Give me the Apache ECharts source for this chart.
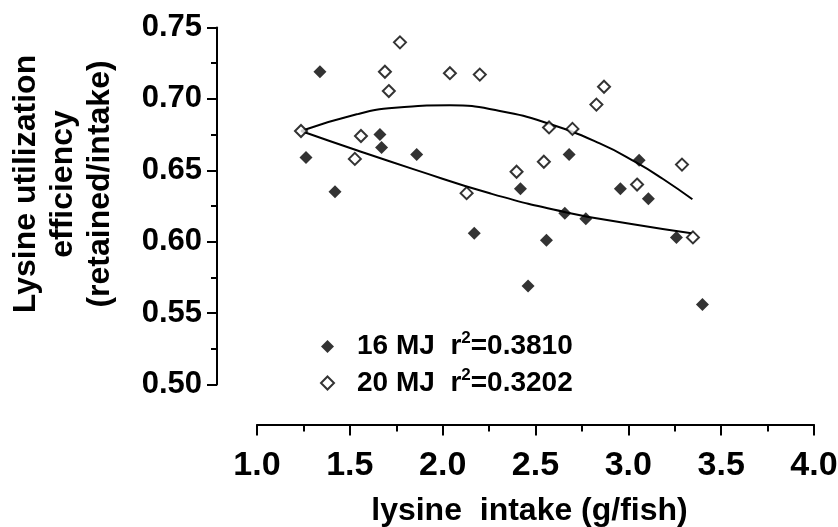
<!DOCTYPE html>
<html>
<head>
<meta charset="utf-8">
<script src="https://cdn.jsdelivr.net/npm/echarts@6/dist/echarts.min.js"></script>
<style>
  html, body { margin: 0; padding: 0; background: #fff; }
  #chart { width: 838px; height: 527px; }
</style>
</head>
<body>
<div id="chart"></div>
<script>
// ---- data ----
const seriesNames = ['16 MJ', '20 MJ'];
const rSquared = ['0.3810', '0.3202'];

const intake16 = [1.264, 1.339, 1.420, 1.662, 1.671, 1.860, 2.170, 2.419, 2.460, 2.559, 2.658, 2.681, 2.771, 2.957, 3.058, 3.108, 3.259, 3.399];
const eff16    = [0.659, 0.719, 0.635, 0.675, 0.666, 0.661, 0.606, 0.637, 0.569, 0.601, 0.620, 0.661, 0.616, 0.637, 0.657, 0.630, 0.603, 0.556];

const intake20 = [1.237, 1.527, 1.560, 1.689, 1.710, 1.770, 2.039, 2.129, 2.200, 2.398, 2.545, 2.573, 2.699, 2.828, 2.869, 3.047, 3.289, 3.348];
const eff20    = [0.6775, 0.658, 0.674, 0.719, 0.7055, 0.7396, 0.718, 0.634, 0.717, 0.649, 0.656, 0.680, 0.679, 0.696, 0.7085, 0.640, 0.654, 0.603];

// fitted curves
const fitX16 = [1.237, 1.537, 1.850, 2.254, 2.667, 3.025, 3.340];
const fitY16 = [0.6775, 0.6640, 0.6505, 0.6339, 0.6205, 0.6122, 0.6059];
const fitX20 = [1.237, 1.537, 1.743, 2.039, 2.308, 2.573, 2.846, 3.040, 3.187, 3.345];
const fitY20 = [0.6775, 0.6892, 0.6938, 0.6955, 0.6916, 0.6826, 0.6688, 0.6557, 0.6439, 0.6297];

const xTicks = { min: 1.0, max: 4.0, interval: 0.5 };
const yTicks = { min: 0.50, max: 0.75, interval: 0.05 };

const xTitle = 'lysine  intake (g/fish)';
const yTitle = 'Lysine utilization\nefficiency\n(retained/intake)';

// ---- chart ----
const zip = (a, b) => a.map((v, i) => [v, b[i]]);
const FONT = '"Liberation Sans", Arial, Helvetica, sans-serif';

const chart = echarts.init(document.getElementById('chart'), null, { renderer: 'canvas' });
chart.setOption({
  animation: false,
  backgroundColor: '#ffffff',
  grid: { left: 257, right: 24, top: 27.5, bottom: 142.5, containLabel: false, outerBoundsMode: 'none' },
  xAxis: {
    type: 'value',
    min: xTicks.min, max: xTicks.max, interval: xTicks.interval,
    offset: 40,
    axisLine: { show: true, onZero: false, lineStyle: { color: '#000', width: 2 } },
    axisTick: { show: true, length: 11, lineStyle: { color: '#000', width: 2 } },
    minorTick: { show: true, splitNumber: 2, length: 7, lineStyle: { color: '#000', width: 2 } },
    splitLine: { show: false },
    axisLabel: {
      color: '#000', fontFamily: FONT, fontWeight: 'bold', fontSize: 34, margin: 24,
      formatter: v => v.toFixed(1)
    },
    name: xTitle,
    nameLocation: 'middle',
    nameGap: 71,
    nameTextStyle: { color: '#000', fontFamily: FONT, fontWeight: 'bold', fontSize: 32, padding: [0, 12, 0, 0] }
  },
  yAxis: {
    type: 'value',
    min: yTicks.min, max: yTicks.max, interval: yTicks.interval,
    offset: 40,
    axisLine: { show: true, onZero: false, lineStyle: { color: '#000', width: 2 } },
    axisTick: { show: true, length: 10, lineStyle: { color: '#000', width: 2 } },
    minorTick: { show: true, splitNumber: 2, length: 6, lineStyle: { color: '#000', width: 2 } },
    splitLine: { show: false },
    axisLabel: {
      color: '#000', fontFamily: FONT, fontWeight: 'bold', fontSize: 31, margin: 15,
      formatter: v => v.toFixed(2)
    },
    name: yTitle,
    nameLocation: 'middle',
    nameGap: 98,
    nameTextStyle: {
      color: '#000', fontFamily: FONT, fontWeight: 'bold', fontSize: 32, lineHeight: 37,
      padding: [0, 0, 0, 44]
    }
  },
  legend: {
    data: seriesNames,
    orient: 'vertical',
    left: 315,
    top: 325,
    itemWidth: 13,
    itemHeight: 13,
    itemGap: 6,
    icon: 'diamond',
    selectedMode: false,
    formatter: name => {
      const i = seriesNames.indexOf(name);
      return '{b|' + name + '  r}{sup|2}{b|=' + rSquared[i] + '}';
    },
    textStyle: {
      color: '#000', fontFamily: FONT, fontWeight: 'bold', fontSize: 28, padding: [0, 0, 0, 18],
      rich: {
        b: { color: '#000', fontFamily: FONT, fontWeight: 'bold', fontSize: 28, lineHeight: 33 },
        sup: { color: '#000', fontFamily: FONT, fontWeight: 'bold', fontSize: 17, lineHeight: 33, verticalAlign: 'top', padding: [0, 0, 12, 0] }
      }
    }
  },
  series: [
    {
      name: seriesNames[0], type: 'scatter', symbol: 'diamond', symbolSize: 13,
      itemStyle: { color: '#000', borderColor: '#000', borderWidth: 0 },
      data: zip(intake16, eff16), z: 3
    },
    {
      name: seriesNames[1], type: 'scatter', symbol: 'diamond', symbolSize: 12,
      itemStyle: { color: '#fff', borderColor: '#000', borderWidth: 2 },
      data: zip(intake20, eff20), z: 4
    },
    {
      name: 'fit16', type: 'line', smooth: true, showSymbol: false, symbol: 'none',
      lineStyle: { color: '#000', width: 2 }, data: zip(fitX16, fitY16), z: 2
    },
    {
      name: 'fit20', type: 'line', smooth: true, showSymbol: false, symbol: 'none',
      lineStyle: { color: '#000', width: 2 }, data: zip(fitX20, fitY20), z: 2
    }
  ]
});
</script>
</body>
</html>
